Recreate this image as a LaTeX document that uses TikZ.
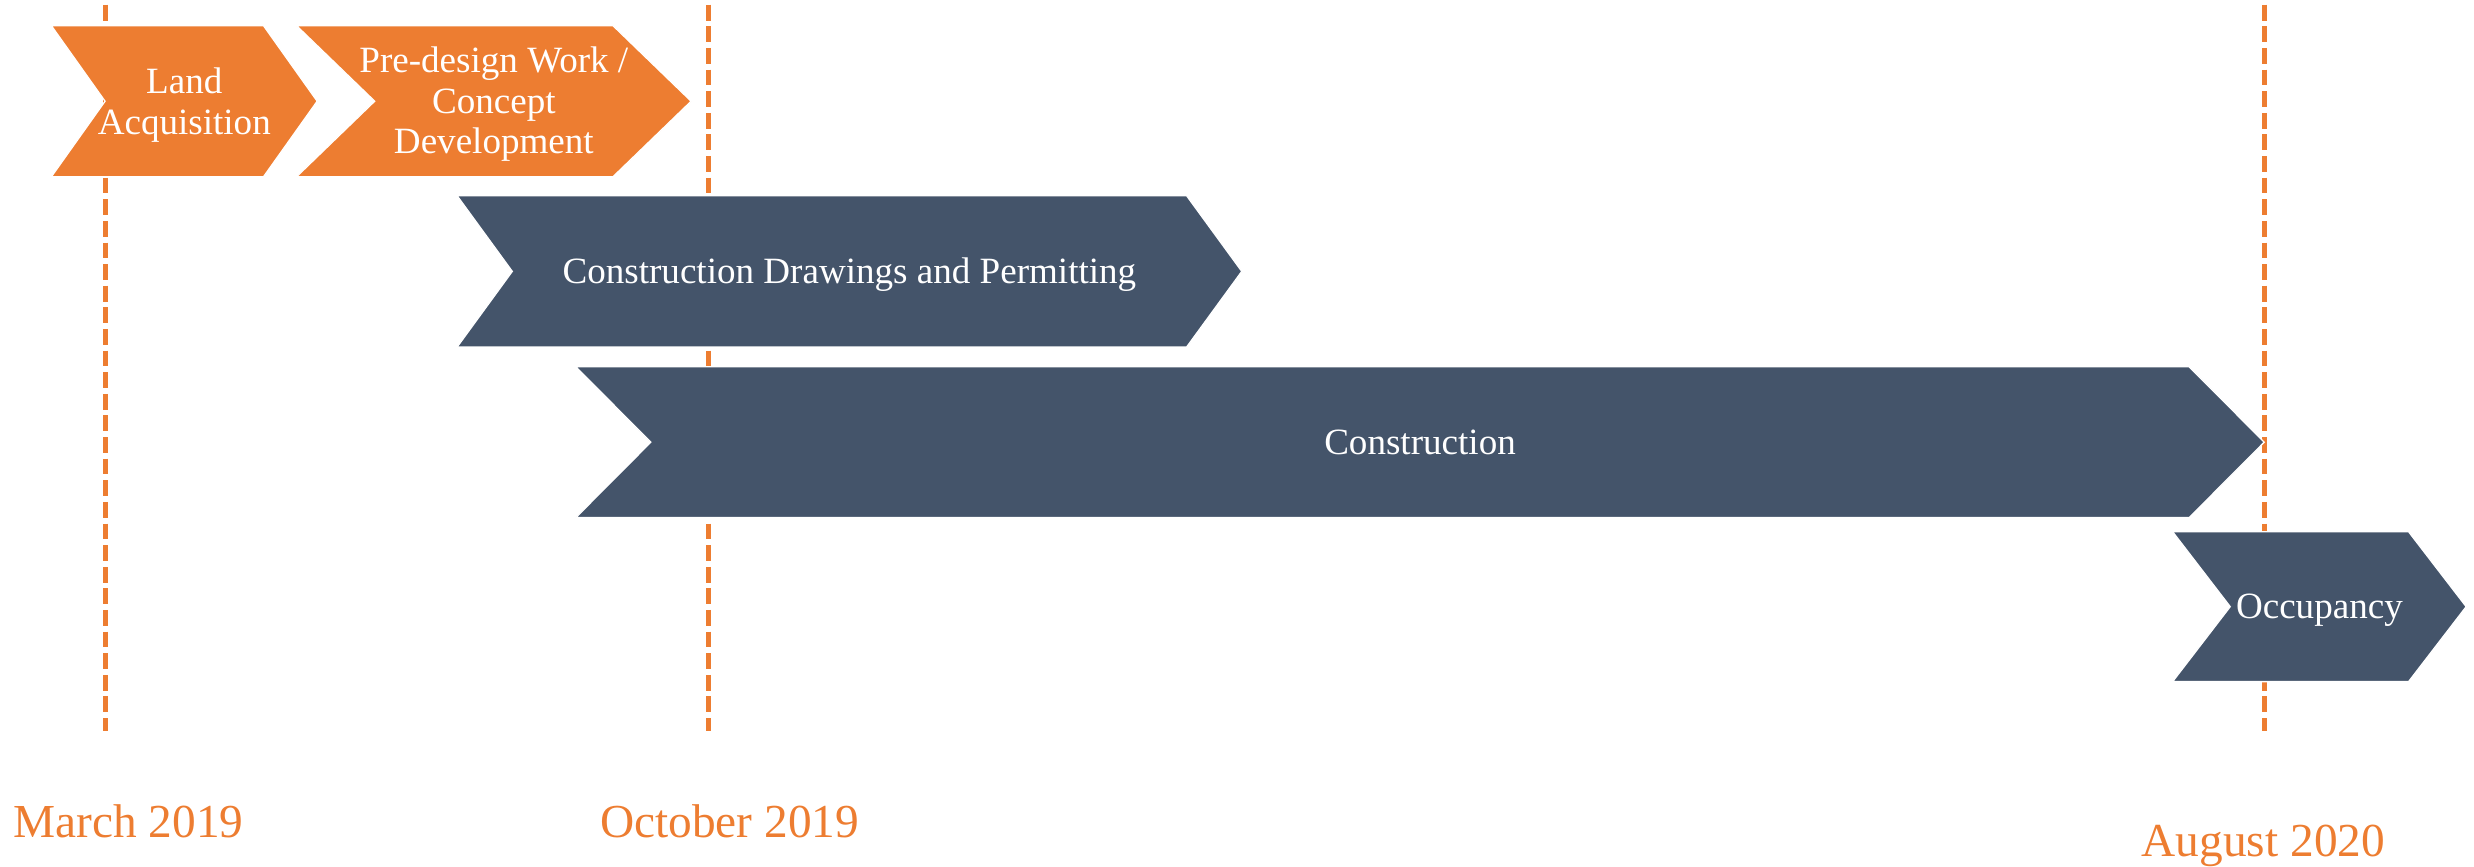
\documentclass[tikz,border=0pt]{standalone}
\usepackage{fontspec}
\setmainfont{Liberation Serif}
\definecolor{accorange}{HTML}{ED7D31}
\definecolor{slate}{HTML}{44546A}
\tikzset{
  stagetext/.style={text=white, align=center, inner sep=0pt, font=\fontsize{23.5}{25.8}\selectfont},
  datetext/.style={text=accorange, anchor=base, inner sep=0pt, font=\fontsize{30}{34}\selectfont},
  milestone/.style={draw=accorange, line width=3.2pt, dash pattern=on 10pt off 3.7pt},
  chevfill/.style={fill=#1, draw=white, line width=0.8pt}
}
% name, x-left, x-right, y-top, y-bottom, depth, colour, text, node options
\newcommand{\stagechev}[9]{%
  \path[chevfill=#7] (#2,#4) -- (#3-#6,#4) -- (#3,{(#4+#5)/2}) -- (#3-#6,#5) -- (#2,#5) -- (#2+#6,{(#4+#5)/2}) -- cycle;
  \node[stagetext,#9] (#1) at ({(#2+#3)/2},{(#4+#5)/2}) {#8};}
\begin{document}
\begin{tikzpicture}[x=1pt,y=-1pt]
\useasboundingbox (0,0) rectangle (1568,549);
% milestone lines (behind the chevrons)
\coordinate (m1top) at (67,3);   \coordinate (m1bot) at (67,463);
\coordinate (m2top) at (449,3);  \coordinate (m2bot) at (449,463);
\coordinate (m3top) at (1435,3); \coordinate (m3bot) at (1435,463);
\draw[milestone] (m1top) -- (m1bot);
\draw[milestone] (m2top) -- (m2bot);
\draw[milestone] (m3top) -- (m3bot);
% stages
\stagechev{land}{32.6}{201}{16.3}{112}{34}{accorange}{Land\\Acquisition}{yshift=-2.5pt}
\stagechev{predesign}{188}{438}{16.3}{112}{49.5}{accorange}{Pre-design Work /\\Concept\\Development}{yshift=-2pt}
\stagechev{drawings}{289.7}{787}{124}{220}{35}{slate}{Construction Drawings and Permitting}{anchor=base, yshift=-7.6pt}
\stagechev{construction}{365}{1435}{232.5}{328}{47.5}{slate}{Construction}{anchor=base, yshift=-7.6pt}
\stagechev{occupancy}{1377}{1563}{337}{432}{36.5}{slate}{Occupancy}{anchor=base, yshift=-7.6pt}
% dates
\node[datetext] (march) at (81.5,531) {March 2019};
\node[datetext] (october) at (462.5,531) {October 2019};
\node[datetext] (august) at (1434.5,543) {August 2020};
\end{tikzpicture}
\end{document}
